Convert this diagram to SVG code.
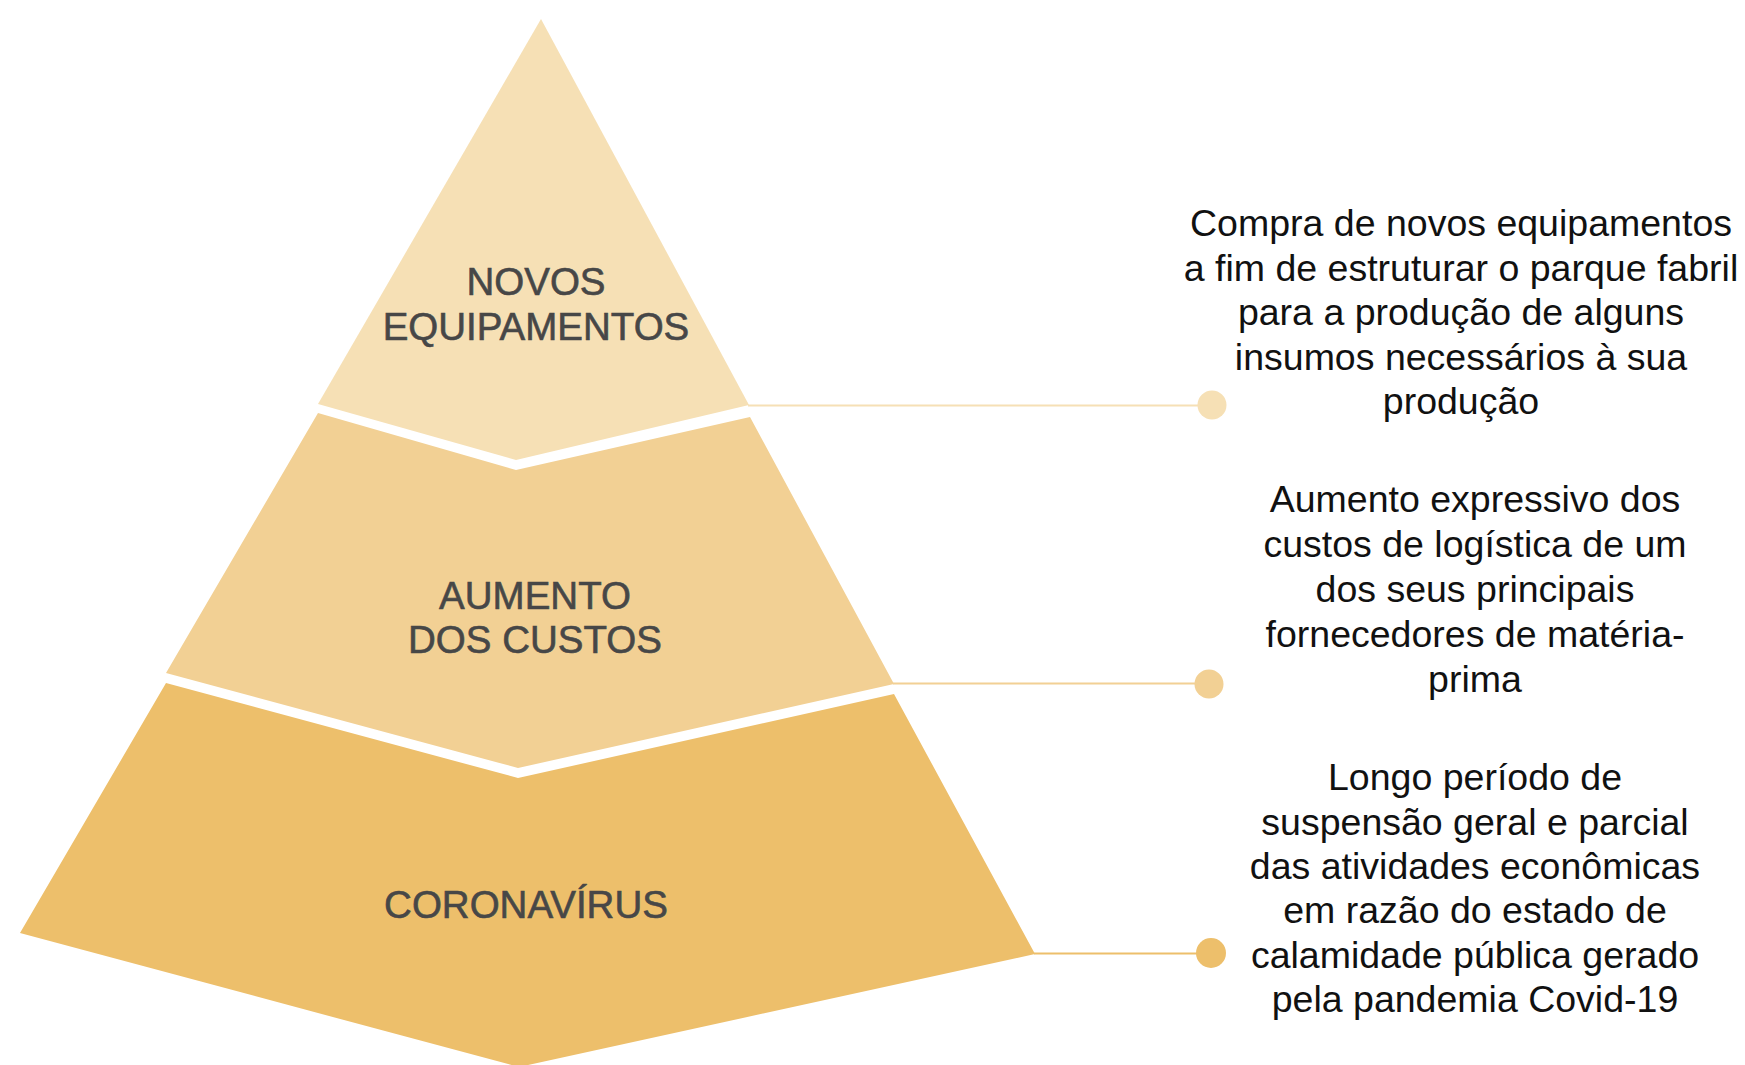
<svg xmlns="http://www.w3.org/2000/svg" width="1745" height="1065" viewBox="0 0 1745 1065">
<style>
.lbl{font-family:"Liberation Sans",Arial,sans-serif;font-size:38.5px;fill:#474747;stroke:#474747;stroke-width:0.6px;text-anchor:middle}
.txt{font-family:"Liberation Sans",Arial,sans-serif;font-size:37.5px;fill:#111111;text-anchor:middle}
.c1{fill:#F6E0B5}.c2{fill:#F2D094}.c3{fill:#EDBF6B}
.l1{stroke:#F6E0B5}.l2{stroke:#F2D094}.l3{stroke:#EDBF6B}
.ln{stroke-width:2;fill:none}
</style>
<rect width="1745" height="1065" fill="#FFFFFF"/>
<g id="connectors">
<line class="ln l1" x1="748" y1="405.5" x2="1212" y2="405.5"/>
<line class="ln l2" x1="893" y1="683.5" x2="1209" y2="683.5"/>
<line class="ln l3" x1="1034" y1="953.5" x2="1211" y2="953.5"/>
</g>
<g id="level-top">
<polygon class="c1" points="541,19 318,404 516,460 749,405"/>
<text class="lbl" x="536" y="295">NOVOS</text>
<text class="lbl" x="536" y="340">EQUIPAMENTOS</text>
</g>
<g id="level-middle">
<polygon class="c2" points="318,413 516,470 750,417 894,684 518,768 166,673"/>
<text class="lbl" x="535" y="609">AUMENTO</text>
<text class="lbl" x="535" y="653">DOS CUSTOS</text>
</g>
<g id="level-bottom">
<polygon class="c3" points="166,683 518,778 894,694 1035,954 519,1067 20,933"/>
<text class="lbl" x="526" y="918">CORONAVÍRUS</text>
</g>
<g id="desc-top">
<circle class="c1" cx="1212" cy="405" r="14.5"/>
<text class="txt" x="1461" y="236">Compra de novos equipamentos</text>
<text class="txt" x="1461" y="280.5">a fim de estruturar o parque fabril</text>
<text class="txt" x="1461" y="325">para a produção de alguns</text>
<text class="txt" x="1461" y="369.5">insumos necessários à sua</text>
<text class="txt" x="1461" y="414">produção</text>
</g>
<g id="desc-middle">
<circle class="c2" cx="1209" cy="684" r="14.5"/>
<text class="txt" x="1475" y="512">Aumento expressivo dos</text>
<text class="txt" x="1475" y="557">custos de logística de um</text>
<text class="txt" x="1475" y="602">dos seus principais</text>
<text class="txt" x="1475" y="647">fornecedores de matéria-</text>
<text class="txt" x="1475" y="692">prima</text>
</g>
<g id="desc-bottom">
<circle class="c3" cx="1211" cy="953" r="15"/>
<text class="txt" x="1475" y="790">Longo período de</text>
<text class="txt" x="1475" y="834.5">suspensão geral e parcial</text>
<text class="txt" x="1475" y="879">das atividades econômicas</text>
<text class="txt" x="1475" y="923">em razão do estado de</text>
<text class="txt" x="1475" y="967.5">calamidade pública gerado</text>
<text class="txt" x="1475" y="1012">pela pandemia Covid-19</text>
</g>
</svg>
